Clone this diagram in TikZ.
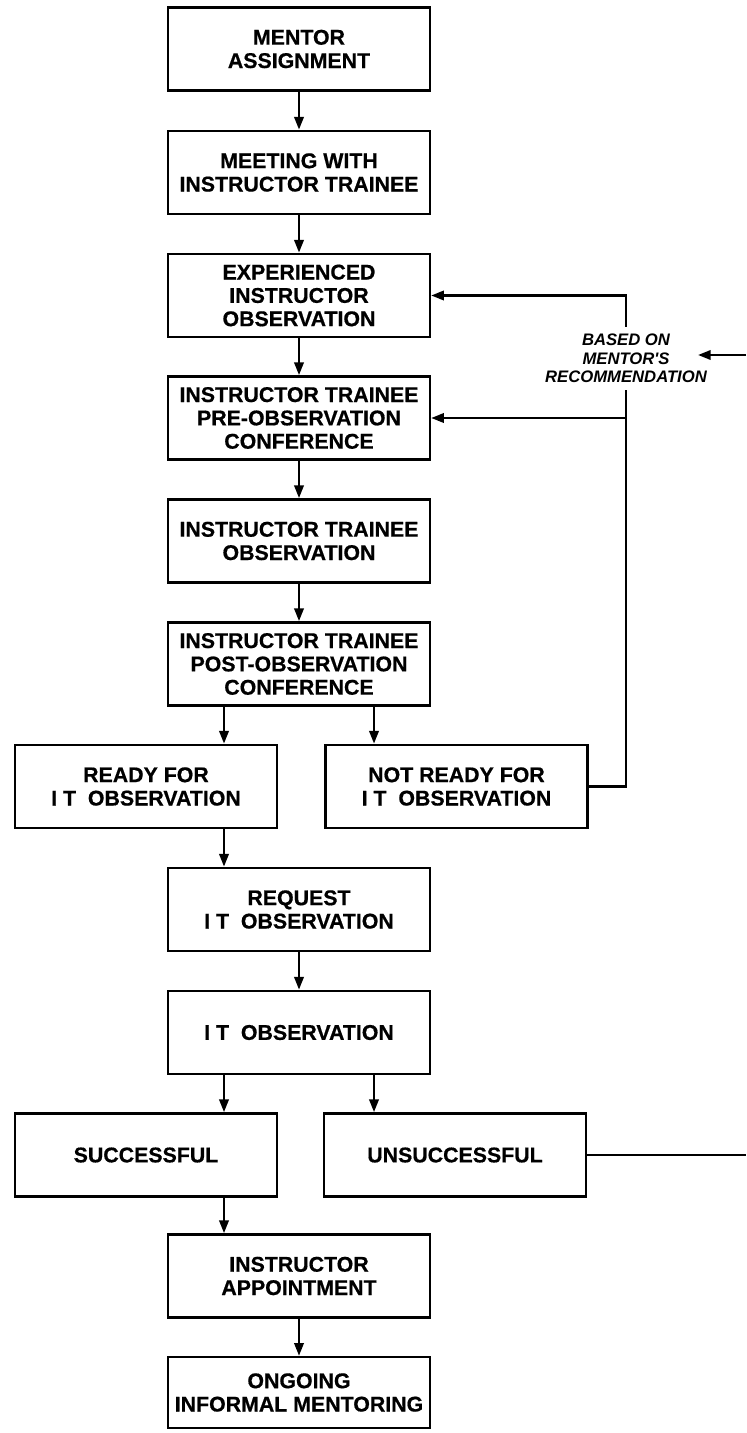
\documentclass[tikz,border=0pt]{standalone}
\usepackage{fontspec}
\setmainfont{Liberation Sans}[BoldFeatures={FakeBold=0.6}]
\usetikzlibrary{arrows.meta,calc}

\begin{document}
\begin{tikzpicture}[x=0.75pt,y=0.75pt,yscale=-1,xscale=1,
  stage/.style={draw, line width=1.8pt, minimum width=196.5pt, minimum height=62.5pt, inner sep=0.75pt, align=center, font=\fontsize{16}{17.5}\selectfont\bfseries},
  note/.style={inner sep=5pt, align=center, font=\fontsize{12.5}{14}\selectfont\bfseries\itshape},
  flow/.style={line width=1.8pt, -{Triangle[length=9.5pt,width=7pt]}},
  link/.style={line width=1.8pt}]
\useasboundingbox (0,0) rectangle (746,1433);

%Flowchart: Process
\draw (299,49) node [stage] (assign) {MENTOR\\ASSIGNMENT};
%Flowchart: Process
\draw (299,172.5) node [stage] (meeting) {MEETING WITH\\INSTRUCTOR TRAINEE};
%Flowchart: Process
\draw (299,295.5) node [stage] (exper) {EXPERIENCED\\INSTRUCTOR\\OBSERVATION};
%Flowchart: Process
\draw (299,418) node [stage] (preconf) {INSTRUCTOR TRAINEE\\PRE-OBSERVATION\\CONFERENCE};
%Flowchart: Process
\draw (299,541) node [stage] (traineeobs) {INSTRUCTOR TRAINEE\\OBSERVATION};
%Flowchart: Process
\draw (299,664) node [stage] (postconf) {INSTRUCTOR TRAINEE\\POST-OBSERVATION\\CONFERENCE};
%Flowchart: Process
\draw (146,786.5) node [stage] (ready) {READY FOR\\I T\ \ OBSERVATION};
%Flowchart: Process
\draw (456.5,786.5) node [stage] (notready) {NOT READY FOR\\I T\ \ OBSERVATION};
%Flowchart: Process
\draw (299,909.5) node [stage] (request) {REQUEST\\I T\ \ OBSERVATION};
%Flowchart: Process
\draw (299,1032.5) node [stage] (itobs) {I T\ \ OBSERVATION};
%Flowchart: Process
\draw (146,1155) node [stage] (success) {SUCCESSFUL};
%Flowchart: Process
\draw (455,1155) node [stage] (fail) {UNSUCCESSFUL};
%Flowchart: Process
\draw (299,1276) node [stage] (appoint) {INSTRUCTOR\\APPOINTMENT};
%Flowchart: Process
\draw (299,1392.5) node [stage, minimum height=53.25pt] (ongoing) {ONGOING\\INFORMAL MENTORING};

% Text Node
\draw (626,358.5) node [note] (recommend) {BASED ON\\MENTOR\textquotesingle S\\RECOMMENDATION};

\coordinate (postL) at ($(postconf.south)+(-75,0)$);
\coordinate (postR) at ($(postconf.south)+(75,0)$);
\coordinate (requestL) at ($(request.north)+(-75,0)$);
\coordinate (itobsL) at ($(itobs.south)+(-75,0)$);
\coordinate (itobsR) at ($(itobs.south)+(75,0)$);
\coordinate (appointL) at ($(appoint.north)+(-75,0)$);
\coordinate (mentorIn) at (746,355);
\coordinate (mentorTip) at (698,355);
\coordinate (failOut) at (746,1155);

%Straight Lines
\draw [flow] (assign) -- (meeting);
\draw [flow] (meeting) -- (exper);
\draw [flow] (exper) -- (preconf);
\draw [flow] (preconf) -- (traineeobs);
\draw [flow] (traineeobs) -- (postconf);
\draw [flow] (postL) -- (postL |- ready.north);
\draw [flow] (postR) -- (postR |- notready.north);
\draw [flow] (requestL |- ready.south) -- (requestL);
\draw [flow] (request) -- (itobs);
\draw [flow] (itobsL) -- (itobsL |- success.north);
\draw [flow] (itobsR) -- (itobsR |- fail.north);
\draw [flow] (appointL |- success.south) -- (appointL);
\draw [flow] (appoint) -- (ongoing);

%Straight Lines
\draw [link] (notready.east) -| (recommend.south);
\draw [flow] (recommend.north) |- (exper.east);
\draw [flow] (recommend.south |- preconf.east) -- (preconf.east);
\draw [flow] (mentorIn) -- (mentorTip);
\draw [link] (fail.east) -- (fail.east -| failOut);

\end{tikzpicture}
\end{document}
